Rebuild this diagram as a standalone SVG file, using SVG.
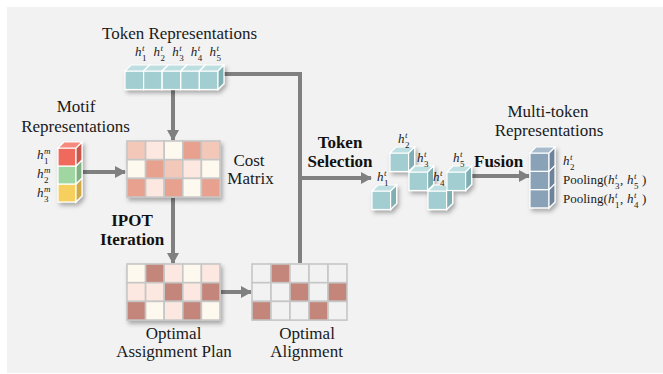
<svg xmlns="http://www.w3.org/2000/svg" xmlns:xlink="http://www.w3.org/1999/xlink" width="663" height="374" viewBox="0 0 663 374">
<style>
text{font-family:'Liberation Serif','Times New Roman','DejaVu Serif',serif;fill:#1a1a1a}
.t{font-size:17px}
.b{font-size:17px;font-weight:bold;fill:#111}
.p{font-size:13px}
.mi{font-size:13px;font-style:italic}
.ss{font-size:9px}
.si{font-size:9px;font-style:italic}
.mid{text-anchor:middle}
.tf{fill:#A2CED1;stroke:#fff;stroke-width:1.2}
.tt{fill:#BEDFE1;stroke:#fff;stroke-width:1.2}
.ts{fill:#7EAFB3;stroke:#fff;stroke-width:1.2}
.cell{stroke:#C6C6C6;stroke-width:1.6}
.c0{fill:#FEF9EE}.c1{fill:#FCE8E0}.c2{fill:#F3C8B9}.c3{fill:#E8A18E}.d{fill:#C4857A}.e{fill:#F2F2F2}
.con{fill:none;stroke:#808080;stroke-width:4}
</style>
<defs>
<marker id="ah" markerUnits="userSpaceOnUse" markerWidth="11" markerHeight="12" refX="10" refY="6" orient="auto">
<path d="M0,0 L11,6 L0,12 z" fill="#808080"/>
</marker>
<filter id="sh" x="-20%" y="-20%" width="150%" height="150%">
<feDropShadow dx="2" dy="3" stdDeviation="2" flood-color="#000" flood-opacity="0.3"/>
</filter>
<g id="cube">
<rect class="tf" x="0" y="0" width="18.6" height="18.5"/>
<polygon class="tt" points="0,0 6,-6 24.6,-6 18.6,0"/>
<polygon class="ts" points="18.6,0 24.6,-6 24.6,12.5 18.6,18.5"/>
</g>
</defs>
<rect x="7" y="7" width="656" height="366" fill="#F2F2F2"/>

<g id="connectors">
<path class="con" d="M222,74 H300 V263"/>
<path class="con" d="M300,178 H371" marker-end="url(#ah)"/>
<path class="con" d="M173,90 V140" marker-end="url(#ah)"/>
<path class="con" d="M83,172 H125" marker-end="url(#ah)"/>
<path class="con" d="M173,198 V263" marker-end="url(#ah)"/>
<path class="con" d="M221,292 H251" marker-end="url(#ah)"/>
<path class="con" d="M466,176 H529" marker-end="url(#ah)"/>
</g>

<g id="token-representations">
<text class="t mid" x="179.5" y="39">Token Representations</text>
<g filter="url(#sh)">
<use xlink:href="#cube" x="125" y="71"/>
<use xlink:href="#cube" x="143.6" y="71"/>
<use xlink:href="#cube" x="162.2" y="71"/>
<use xlink:href="#cube" x="180.8" y="71"/>
<use xlink:href="#cube" x="199.4" y="71"/>
</g>
<text class="mi" x="135" y="56">h</text><text class="si" x="142" y="51">t</text><text class="ss" x="142" y="61">1</text>
<text class="mi" x="153.6" y="56">h</text><text class="si" x="160.6" y="51">t</text><text class="ss" x="160.6" y="61">2</text>
<text class="mi" x="172.2" y="56">h</text><text class="si" x="179.2" y="51">t</text><text class="ss" x="179.2" y="61">3</text>
<text class="mi" x="190.8" y="56">h</text><text class="si" x="197.8" y="51">t</text><text class="ss" x="197.8" y="61">4</text>
<text class="mi" x="209.4" y="56">h</text><text class="si" x="216.4" y="51">t</text><text class="ss" x="216.4" y="61">5</text>
</g>

<g id="motif-representations">
<text class="t mid" x="76" y="112">Motif</text>
<text class="t mid" x="75.5" y="132">Representations</text>
<g filter="url(#sh)" stroke="#fff" stroke-width="1.2">
<rect x="58" y="184" width="18" height="18" fill="#F6CF5E"/>
<polygon points="76,184 82,178 82,196 76,202" fill="#CFAA45"/>
<rect x="58" y="166" width="18" height="18" fill="#9FD6A2"/>
<polygon points="76,166 82,160 82,178 76,184" fill="#7DB380"/>
<rect x="58" y="148" width="18" height="18" fill="#EF6A5B"/>
<polygon points="76,148 82,142 82,160 76,166" fill="#C9574B"/>
<polygon points="58,148 64,142 82,142 76,148" fill="#F4897C"/>
</g>
<text class="mi" x="37" y="159">h</text><text class="si" x="44" y="154">m</text><text class="ss" x="44" y="164">1</text>
<text class="mi" x="37" y="178">h</text><text class="si" x="44" y="173">m</text><text class="ss" x="44" y="183">2</text>
<text class="mi" x="37" y="197">h</text><text class="si" x="44" y="192">m</text><text class="ss" x="44" y="202">3</text>
</g>

<g id="cost-matrix">
<g filter="url(#sh)" class="cell">
<rect class="c2" x="127" y="141" width="18.6" height="18.7"/><rect class="c1" x="145.6" y="141" width="18.6" height="18.7"/><rect class="c0" x="164.2" y="141" width="18.6" height="18.7"/><rect class="c3" x="182.8" y="141" width="18.6" height="18.7"/><rect class="c2" x="201.4" y="141" width="18.6" height="18.7"/>
<rect class="c0" x="127" y="159.7" width="18.6" height="18.7"/><rect class="c3" x="145.6" y="159.7" width="18.6" height="18.7"/><rect class="c2" x="164.2" y="159.7" width="18.6" height="18.7"/><rect class="c1" x="182.8" y="159.7" width="18.6" height="18.7"/><rect class="c0" x="201.4" y="159.7" width="18.6" height="18.7"/>
<rect class="c3" x="127" y="178.4" width="18.6" height="18.7"/><rect class="c1" x="145.6" y="178.4" width="18.6" height="18.7"/><rect class="c3" x="164.2" y="178.4" width="18.6" height="18.7"/><rect class="c0" x="182.8" y="178.4" width="18.6" height="18.7"/><rect class="c3" x="201.4" y="178.4" width="18.6" height="18.7"/>
</g>
<text class="t mid" x="249" y="166">Cost</text>
<text class="t mid" x="250.5" y="184">Matrix</text>
</g>

<g id="ipot-label">
<text class="b mid" x="132" y="226">IPOT</text>
<text class="b mid" x="132" y="245">Iteration</text>
</g>

<g id="optimal-assignment-plan">
<g filter="url(#sh)" class="cell">
<rect class="c0" x="127" y="264" width="18.6" height="18.7"/><rect class="d" x="145.6" y="264" width="18.6" height="18.7"/><rect class="c1" x="164.2" y="264" width="18.6" height="18.7"/><rect class="c0" x="182.8" y="264" width="18.6" height="18.7"/><rect class="c1" x="201.4" y="264" width="18.6" height="18.7"/>
<rect class="c1" x="127" y="282.7" width="18.6" height="18.7"/><rect class="c1" x="145.6" y="282.7" width="18.6" height="18.7"/><rect class="d" x="164.2" y="282.7" width="18.6" height="18.7"/><rect class="c1" x="182.8" y="282.7" width="18.6" height="18.7"/><rect class="d" x="201.4" y="282.7" width="18.6" height="18.7"/>
<rect class="d" x="127" y="301.4" width="18.6" height="18.7"/><rect class="c0" x="145.6" y="301.4" width="18.6" height="18.7"/><rect class="c1" x="164.2" y="301.4" width="18.6" height="18.7"/><rect class="d" x="182.8" y="301.4" width="18.6" height="18.7"/><rect class="c0" x="201.4" y="301.4" width="18.6" height="18.7"/>
</g>
<text class="t mid" x="173.5" y="339">Optimal</text>
<text class="t mid" x="174" y="357">Assignment Plan</text>
</g>

<g id="optimal-alignment">
<g class="cell">
<rect class="e" x="252" y="264" width="19" height="18.7"/><rect class="d" x="271" y="264" width="19" height="18.7"/><rect class="e" x="290" y="264" width="19" height="18.7"/><rect class="e" x="309" y="264" width="19" height="18.7"/><rect class="e" x="328" y="264" width="19" height="18.7"/>
<rect class="e" x="252" y="282.7" width="19" height="18.7"/><rect class="e" x="271" y="282.7" width="19" height="18.7"/><rect class="d" x="290" y="282.7" width="19" height="18.7"/><rect class="e" x="309" y="282.7" width="19" height="18.7"/><rect class="d" x="328" y="282.7" width="19" height="18.7"/>
<rect class="d" x="252" y="301.4" width="19" height="18.7"/><rect class="e" x="271" y="301.4" width="19" height="18.7"/><rect class="e" x="290" y="301.4" width="19" height="18.7"/><rect class="d" x="309" y="301.4" width="19" height="18.7"/><rect class="e" x="328" y="301.4" width="19" height="18.7"/>
</g>
<text class="t mid" x="307" y="339">Optimal</text>
<text class="t mid" x="306.5" y="357">Alignment</text>
</g>

<g id="token-selection-label">
<text class="b mid" x="340" y="148">Token</text>
<text class="b mid" x="340" y="167">Selection</text>
</g>

<g id="selected-tokens">
<g filter="url(#sh)">
<use xlink:href="#cube" x="428" y="191"/>
<use xlink:href="#cube" x="372" y="191"/>
<use xlink:href="#cube" x="390" y="153"/>
<use xlink:href="#cube" x="409" y="172"/>
<use xlink:href="#cube" x="447" y="172"/>
</g>
<text class="mi" x="398" y="143">h</text><text class="si" x="405" y="138">t</text><text class="ss" x="405" y="148">2</text>
<text class="mi" x="417" y="162">h</text><text class="si" x="424" y="157">t</text><text class="ss" x="424" y="167">3</text>
<text class="mi" x="453" y="162">h</text><text class="si" x="460" y="157">t</text><text class="ss" x="460" y="167">5</text>
<text class="mi" x="377" y="181">h</text><text class="si" x="384" y="176">t</text><text class="ss" x="384" y="186">1</text>
<text class="mi" x="433" y="181">h</text><text class="si" x="440" y="176">t</text><text class="ss" x="440" y="186">4</text>
</g>

<g id="fusion-label">
<text class="b" x="474" y="167">Fusion</text>
</g>

<g id="multi-token-representations">
<text class="t mid" x="548" y="117">Multi-token</text>
<text class="t mid" x="549" y="136">Representations</text>
<g filter="url(#sh)" stroke="#fff" stroke-width="1.2">
<rect x="530" y="189.6" width="19" height="18.3" fill="#8AA2B8"/>
<polygon points="549,189.6 555,183.6 555,201.9 549,207.9" fill="#6D8399"/>
<rect x="530" y="171.3" width="19" height="18.3" fill="#8AA2B8"/>
<polygon points="549,171.3 555,165.3 555,183.6 549,189.6" fill="#6D8399"/>
<rect x="530" y="153" width="19" height="18.3" fill="#8AA2B8"/>
<polygon points="549,153 555,147 555,165.3 549,171.3" fill="#6D8399"/>
<polygon points="530,153 536,147 555,147 549,153" fill="#A7BBCC"/>
</g>
<text class="mi" x="563" y="165">h</text><text class="si" x="570" y="160">t</text><text class="ss" x="570" y="170">2</text>
<text class="p" x="563" y="184">Pooling(</text>
<text class="mi" x="608" y="184">h</text><text class="si" x="615" y="179">t</text><text class="ss" x="615" y="189">3</text>
<text class="p" x="620" y="184">,</text>
<text class="mi" x="627" y="184">h</text><text class="si" x="634" y="179">t</text><text class="ss" x="634" y="189">5</text>
<text class="p" x="642" y="184">)</text>
<text class="p" x="563" y="203">Pooling(</text>
<text class="mi" x="608" y="203">h</text><text class="si" x="615" y="198">t</text><text class="ss" x="615" y="208">1</text>
<text class="p" x="620" y="203">,</text>
<text class="mi" x="627" y="203">h</text><text class="si" x="634" y="198">t</text><text class="ss" x="634" y="208">4</text>
<text class="p" x="642" y="203">)</text>
</g>
</svg>
